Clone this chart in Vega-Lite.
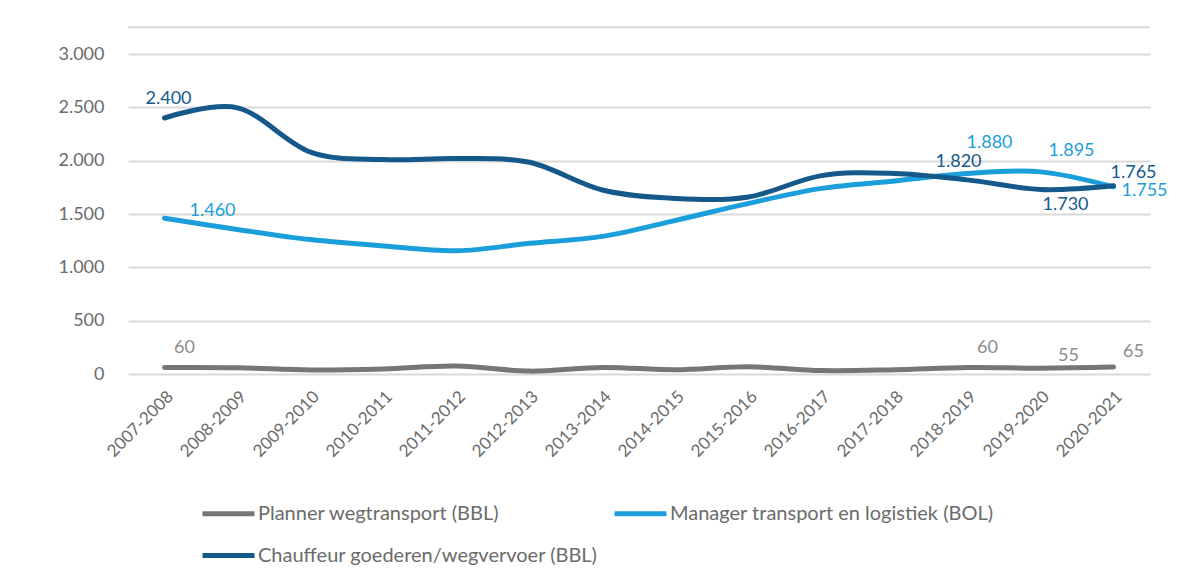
{
  "$schema": "https://vega.github.io/schema/vega-lite/v6.json",
  "autosize": "none",
  "width": 1022,
  "height": 320,
  "padding": {"left": 128, "top": 54, "right": 51, "bottom": 206},
  "background": "white",
  "config": {
    "locale": {"number": {"decimal": ",", "thousands": ".", "grouping": [3], "currency": ["€", ""]}},
    "view": {"stroke": null},
    "font": "Lato"
  },
  "data": {
    "values": [
      {"period": "2007-2008", "series": "Planner wegtransport (BBL)", "value": 60},
      {"period": "2008-2009", "series": "Planner wegtransport (BBL)", "value": 58},
      {"period": "2009-2010", "series": "Planner wegtransport (BBL)", "value": 38},
      {"period": "2010-2011", "series": "Planner wegtransport (BBL)", "value": 48},
      {"period": "2011-2012", "series": "Planner wegtransport (BBL)", "value": 75},
      {"period": "2012-2013", "series": "Planner wegtransport (BBL)", "value": 27},
      {"period": "2013-2014", "series": "Planner wegtransport (BBL)", "value": 62},
      {"period": "2014-2015", "series": "Planner wegtransport (BBL)", "value": 40},
      {"period": "2015-2016", "series": "Planner wegtransport (BBL)", "value": 68},
      {"period": "2016-2017", "series": "Planner wegtransport (BBL)", "value": 32},
      {"period": "2017-2018", "series": "Planner wegtransport (BBL)", "value": 40},
      {"period": "2018-2019", "series": "Planner wegtransport (BBL)", "value": 60},
      {"period": "2019-2020", "series": "Planner wegtransport (BBL)", "value": 55},
      {"period": "2020-2021", "series": "Planner wegtransport (BBL)", "value": 65},
      {"period": "2007-2008", "series": "Manager transport en logistiek (BOL)", "value": 1460},
      {"period": "2008-2009", "series": "Manager transport en logistiek (BOL)", "value": 1355},
      {"period": "2009-2010", "series": "Manager transport en logistiek (BOL)", "value": 1260},
      {"period": "2010-2011", "series": "Manager transport en logistiek (BOL)", "value": 1200},
      {"period": "2011-2012", "series": "Manager transport en logistiek (BOL)", "value": 1155},
      {"period": "2012-2013", "series": "Manager transport en logistiek (BOL)", "value": 1225},
      {"period": "2013-2014", "series": "Manager transport en logistiek (BOL)", "value": 1290},
      {"period": "2014-2015", "series": "Manager transport en logistiek (BOL)", "value": 1440},
      {"period": "2015-2016", "series": "Manager transport en logistiek (BOL)", "value": 1600},
      {"period": "2016-2017", "series": "Manager transport en logistiek (BOL)", "value": 1740},
      {"period": "2017-2018", "series": "Manager transport en logistiek (BOL)", "value": 1810},
      {"period": "2018-2019", "series": "Manager transport en logistiek (BOL)", "value": 1880},
      {"period": "2019-2020", "series": "Manager transport en logistiek (BOL)", "value": 1895},
      {"period": "2020-2021", "series": "Manager transport en logistiek (BOL)", "value": 1755},
      {"period": "2007-2008", "series": "Chauffeur goederen/wegvervoer (BBL)", "value": 2400},
      {"period": "2008-2009", "series": "Chauffeur goederen/wegvervoer (BBL)", "value": 2495},
      {"period": "2009-2010", "series": "Chauffeur goederen/wegvervoer (BBL)", "value": 2080},
      {"period": "2010-2011", "series": "Chauffeur goederen/wegvervoer (BBL)", "value": 2010},
      {"period": "2011-2012", "series": "Chauffeur goederen/wegvervoer (BBL)", "value": 2020},
      {"period": "2012-2013", "series": "Chauffeur goederen/wegvervoer (BBL)", "value": 1985},
      {"period": "2013-2014", "series": "Chauffeur goederen/wegvervoer (BBL)", "value": 1725},
      {"period": "2014-2015", "series": "Chauffeur goederen/wegvervoer (BBL)", "value": 1645},
      {"period": "2015-2016", "series": "Chauffeur goederen/wegvervoer (BBL)", "value": 1660},
      {"period": "2016-2017", "series": "Chauffeur goederen/wegvervoer (BBL)", "value": 1860},
      {"period": "2017-2018", "series": "Chauffeur goederen/wegvervoer (BBL)", "value": 1880},
      {"period": "2018-2019", "series": "Chauffeur goederen/wegvervoer (BBL)", "value": 1820},
      {"period": "2019-2020", "series": "Chauffeur goederen/wegvervoer (BBL)", "value": 1730},
      {"period": "2020-2021", "series": "Chauffeur goederen/wegvervoer (BBL)", "value": 1765}
    ]
  },
  "encoding": {
    "x": {
      "field": "period", "type": "ordinal", "sort": null,
      "scale": {"type": "point", "padding": 0.5},
      "axis": {
        "title": null, "domain": false, "ticks": false, "labelAngle": -45,
        "labelFontSize": 17, "labelColor": "#6b6b6b", "labelPadding": 14, "grid": false
      }
    },
    "y": {
      "field": "value", "type": "quantitative",
      "scale": {"domain": [0, 3000], "nice": false},
      "axis": {
        "title": null, "domain": false, "ticks": false, "values": [0, 500, 1000, 1500, 2000, 2500, 3000],
        "format": ",d", "labelFontSize": 18, "labelColor": "#6b6b6b", "labelPadding": 24,
        "gridColor": "#d9d9d9", "gridWidth": 2
      }
    }
  },
  "layer": [
    {
      "data": {"values": [{"top": 3250}]},
      "mark": {"type": "rule", "color": "#d9d9d9", "strokeWidth": 2},
      "encoding": {"x": null, "y": {"field": "top", "type": "quantitative"}}
    },
    {
      "mark": {"type": "line", "interpolate": "cardinal", "strokeWidth": 5, "strokeCap": "round"},
      "encoding": {
        "color": {
          "field": "series", "type": "nominal",
          "scale": {
            "domain": ["Planner wegtransport (BBL)", "Manager transport en logistiek (BOL)", "Chauffeur goederen/wegvervoer (BBL)"],
            "range": ["#767676", "#1b9fdb", "#14598a"]
          },
          "legend": {
            "title": null, "orient": "none", "legendX": 72, "legendY": 431,
            "columns": 2, "direction": "horizontal", "symbolType": "stroke",
            "symbolSize": 2700, "symbolStrokeWidth": 5, "labelFontSize": 20,
            "labelColor": "#6b6b6b", "labelOffset": 1, "rowPadding": 3, "columnPadding": 6,
            "labelLimit": 500
          }
        }
      }
    },
    {
      "transform": [{"filter": "datum.series == 'Planner wegtransport (BBL)' && (datum.period == '2007-2008' || datum.period == '2018-2019')"}],
      "mark": {"type": "text", "fontSize": 18, "color": "#8c8c8c", "dx": 20, "dy": -20},
      "encoding": {"text": {"field": "value", "type": "quantitative", "format": ",d"}}
    },
    {
      "transform": [{"filter": "datum.series == 'Planner wegtransport (BBL)' && datum.period == '2019-2020'"}],
      "mark": {"type": "text", "fontSize": 18, "color": "#8c8c8c", "dx": 28, "dy": -12},
      "encoding": {"text": {"field": "value", "type": "quantitative", "format": ",d"}}
    },
    {
      "transform": [{"filter": "datum.series == 'Planner wegtransport (BBL)' && datum.period == '2020-2021'"}],
      "mark": {"type": "text", "fontSize": 18, "color": "#8c8c8c", "dx": 20, "dy": -15},
      "encoding": {"text": {"field": "value", "type": "quantitative", "format": ",d"}}
    },
    {
      "transform": [{"filter": "datum.series == 'Chauffeur goederen/wegvervoer (BBL)' && datum.period == '2007-2008'"}],
      "mark": {"type": "text", "fontSize": 18, "color": "#14598a", "dx": 4, "dy": -19},
      "encoding": {"text": {"field": "value", "type": "quantitative", "format": ",d"}}
    },
    {
      "transform": [{"filter": "datum.series == 'Chauffeur goederen/wegvervoer (BBL)' && datum.period == '2018-2019'"}],
      "mark": {"type": "text", "fontSize": 18, "color": "#14598a", "dx": -9, "dy": -18},
      "encoding": {"text": {"field": "value", "type": "quantitative", "format": ",d"}}
    },
    {
      "transform": [{"filter": "datum.series == 'Chauffeur goederen/wegvervoer (BBL)' && datum.period == '2019-2020'"}],
      "mark": {"type": "text", "fontSize": 18, "color": "#14598a", "dx": 25, "dy": 16},
      "encoding": {"text": {"field": "value", "type": "quantitative", "format": ",d"}}
    },
    {
      "transform": [{"filter": "datum.series == 'Chauffeur goederen/wegvervoer (BBL)' && datum.period == '2020-2021'"}],
      "mark": {"type": "text", "fontSize": 18, "color": "#14598a", "dx": 20, "dy": -13},
      "encoding": {"text": {"field": "value", "type": "quantitative", "format": ",d"}}
    },
    {
      "transform": [{"filter": "datum.series == 'Manager transport en logistiek (BOL)' && datum.period == '2007-2008'"}],
      "mark": {"type": "text", "fontSize": 18, "color": "#1b9fdb", "dx": 48, "dy": -7},
      "encoding": {"text": {"field": "value", "type": "quantitative", "format": ",d"}}
    },
    {
      "transform": [{"filter": "datum.series == 'Manager transport en logistiek (BOL)' && datum.period == '2018-2019'"}],
      "mark": {"type": "text", "fontSize": 18, "color": "#1b9fdb", "dx": 22, "dy": -30},
      "encoding": {"text": {"field": "value", "type": "quantitative", "format": ",d"}}
    },
    {
      "transform": [{"filter": "datum.series == 'Manager transport en logistiek (BOL)' && datum.period == '2019-2020'"}],
      "mark": {"type": "text", "fontSize": 18, "color": "#1b9fdb", "dx": 31, "dy": -21},
      "encoding": {"text": {"field": "value", "type": "quantitative", "format": ",d"}}
    },
    {
      "transform": [{"filter": "datum.series == 'Manager transport en logistiek (BOL)' && datum.period == '2020-2021'"}],
      "mark": {"type": "text", "fontSize": 18, "color": "#1b9fdb", "dx": 31, "dy": 4},
      "encoding": {"text": {"field": "value", "type": "quantitative", "format": ",d"}}
    }
  ]
}
